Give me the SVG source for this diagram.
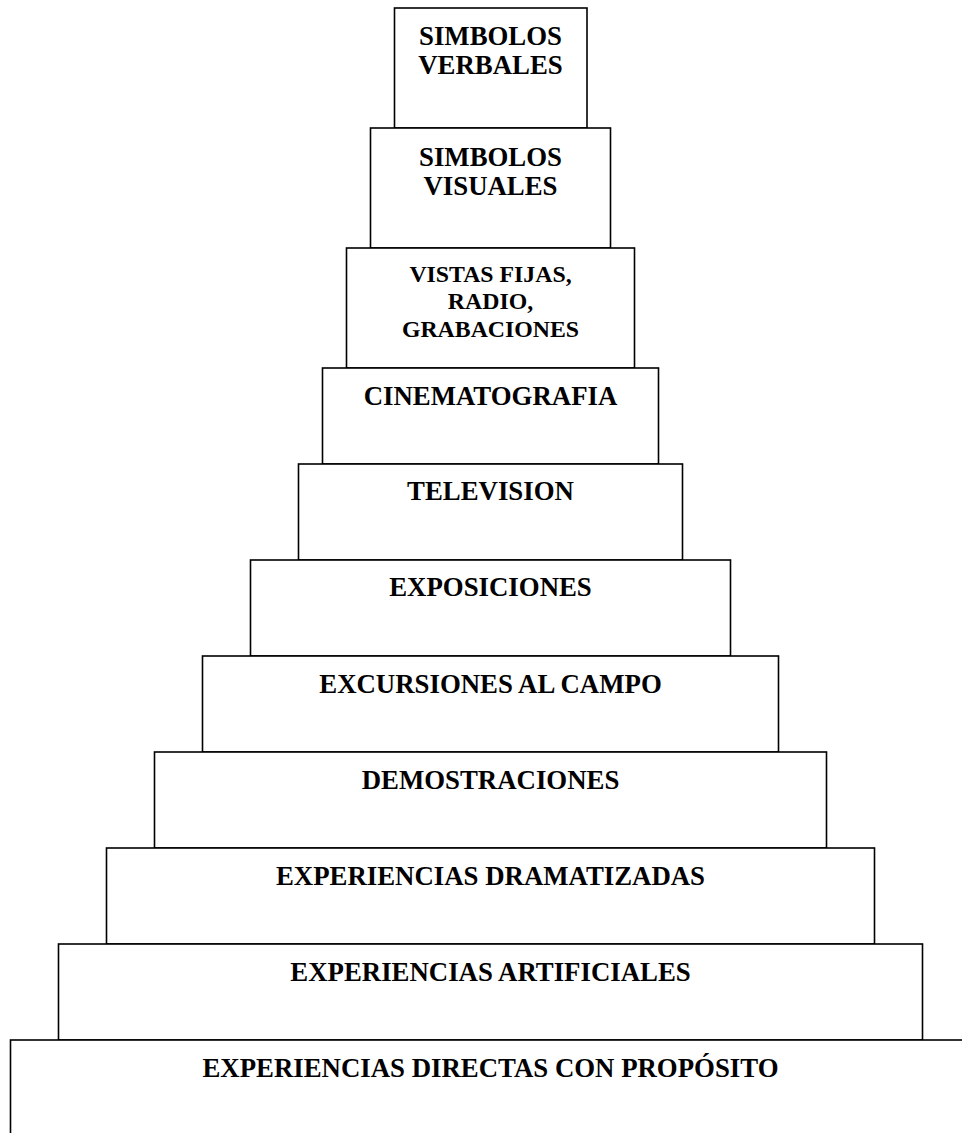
<svg xmlns="http://www.w3.org/2000/svg" width="962" height="1133" viewBox="0 0 962 1133">
<style>
.b{fill:#fff;stroke:#000;stroke-width:1.6}
.t{font-family:"Liberation Serif","Times New Roman",serif;font-weight:bold;font-size:26.8px;text-anchor:middle;fill:#000}
.s{font-size:23.8px}
</style>
<rect width="962" height="1133" fill="#fff"/>
<g id="n1"><rect class="b" x="394.5" y="8" width="192.5" height="120"/><text class="t" x="490.5" y="45">SIMBOLOS</text><text class="t" x="490.5" y="74">VERBALES</text></g>
<g id="n2"><rect class="b" x="370.5" y="128" width="240" height="120"/><text class="t" x="490.5" y="165.5">SIMBOLOS</text><text class="t" x="490.5" y="194.5">VISUALES</text></g>
<g id="n3"><rect class="b" x="346.5" y="248" width="288" height="120"/><text class="t s" x="490.5" y="281.5">VISTAS FIJAS,</text><text class="t s" x="490.5" y="309">RADIO,</text><text class="t s" x="490.5" y="336.5">GRABACIONES</text></g>
<g id="n4"><rect class="b" x="322.5" y="368" width="336" height="96"/><text class="t" x="490.5" y="405">CINEMATOGRAFIA</text></g>
<g id="n5"><rect class="b" x="298.5" y="464" width="384" height="96"/><text class="t" x="490.5" y="500">TELEVISION</text></g>
<g id="n6"><rect class="b" x="250.5" y="560" width="480" height="96"/><text class="t" x="490.5" y="596">EXPOSICIONES</text></g>
<g id="n7"><rect class="b" x="202.5" y="656" width="576" height="96"/><text class="t" x="490.5" y="692.5">EXCURSIONES AL CAMPO</text></g>
<g id="n8"><rect class="b" x="154.5" y="752" width="672" height="96"/><text class="t" x="490.5" y="788.5">DEMOSTRACIONES</text></g>
<g id="n9"><rect class="b" x="106.5" y="848" width="768" height="96"/><text class="t" x="490.5" y="884.5">EXPERIENCIAS DRAMATIZADAS</text></g>
<g id="n10"><rect class="b" x="58.5" y="944" width="864" height="96"/><text class="t" x="490.5" y="980.5">EXPERIENCIAS ARTIFICIALES</text></g>
<g id="n11"><rect class="b" x="10.5" y="1040" width="960" height="120"/><text class="t" x="490.5" y="1076.5">EXPERIENCIAS DIRECTAS CON PROPÓSITO</text></g>
<g id="connectors"></g>
</svg>
